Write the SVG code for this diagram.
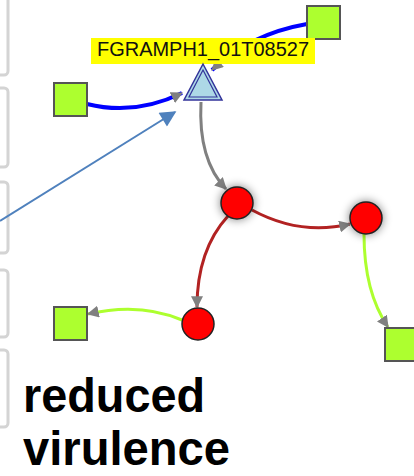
<svg xmlns="http://www.w3.org/2000/svg" width="414" height="476" viewBox="0 0 414 476">
<style>
.sq{fill:#adff2f;stroke:#555;stroke-width:2}
.rc{fill:#ff0000;stroke:#222;stroke-width:1.5}
.side{fill:#fff;stroke:#d4d4d4;stroke-width:3}
.e{fill:none}
.big{font-family:"Liberation Sans",Arial,sans-serif;font-weight:bold;font-size:48px;fill:#000}
</style>
<defs>
<marker id="agm" viewBox="0 0 10 10" refX="9" refY="5" markerWidth="12" markerHeight="12" orient="auto" markerUnits="userSpaceOnUse"><path d="M0,0L10,5L0,10z" fill="#808080"/></marker>
<marker id="ab" viewBox="0 0 10 10" refX="9" refY="5" markerWidth="18" markerHeight="16" orient="auto" markerUnits="userSpaceOnUse"><path d="M0,0L10,5L0,10z" fill="#4f81bd"/></marker>
<filter id="sh" x="-80%" y="-80%" width="260%" height="260%"><feGaussianBlur in="SourceAlpha" stdDeviation="5"/><feComponentTransfer><feFuncA type="linear" slope="0.5"/></feComponentTransfer><feMerge><feMergeNode/><feMergeNode in="SourceGraphic"/></feMerge></filter>
</defs>
<rect width="414" height="476" fill="#fff"/>
<g id="sidebar">
<rect x="-12" y="-10" width="20" height="85" rx="4" class="side"/>
<rect x="-12" y="88" width="20" height="79" rx="4" class="side"/>
<rect x="-12" y="182" width="20" height="71" rx="4" class="side"/>
<rect x="-12" y="270" width="20" height="67" rx="4" class="side"/>
<rect x="-12" y="350" width="20" height="77" rx="4" class="side"/>
</g>
<g id="connectors">
<path class="e" d="M87,104 Q135,116 182,93" stroke="#0000ff" stroke-width="4" marker-end="url(#agm)"/>
<path class="e" d="M307,24 Q250,34 212,70" stroke="#0000ff" stroke-width="4" marker-end="url(#agm)"/>
<path class="e" d="M0,221 L175,112" stroke="#4f81bd" stroke-width="2" marker-end="url(#ab)"/>
<path class="e" d="M201,102 Q198,160 226,189" stroke="#808080" stroke-width="3" marker-end="url(#agm)"/>
<path class="e" d="M252,210 Q300,236 350,224" stroke="#b22222" stroke-width="3" marker-end="url(#agm)"/>
<path class="e" d="M228,216 Q197,250 197,307" stroke="#b22222" stroke-width="3" marker-end="url(#agm)"/>
<path class="e" d="M182,320 Q140,302 88,314" stroke="#adff2f" stroke-width="3" marker-end="url(#agm)"/>
<path class="e" d="M364,234 Q364,292 388,327" stroke="#adff2f" stroke-width="3" marker-end="url(#agm)"/>
</g>
<g id="n_sq_tr"><rect x="307" y="6" width="33" height="33" class="sq"/></g>
<g id="n_sq_l"><rect x="54" y="83" width="33" height="33" class="sq"/></g>
<g id="n_sq_bl"><rect x="54" y="307" width="33" height="33" class="sq"/></g>
<g id="n_sq_br"><rect x="385" y="328" width="33" height="33" class="sq"/></g>
<g id="n_label">
<rect x="91" y="38" width="224" height="26" fill="#ffff00"/>
<text x="97" y="56" font-family="Liberation Sans,Arial,sans-serif" font-size="20" fill="#111" textLength="212" lengthAdjust="spacingAndGlyphs">FGRAMPH1_01T08527</text>
</g>
<g id="n_tri">
<polygon points="203,64 222,100 184,100" fill="#add8e6" stroke="#33339a" stroke-width="1.5"/>
<polygon points="203,70 217,97 189,97" fill="none" stroke="#33339a" stroke-width="1.2"/>
</g>
<g id="n_c1"><circle cx="237" cy="203" r="16" class="rc" filter="url(#sh)"/></g>
<g id="n_c2"><circle cx="366" cy="218" r="16" class="rc" filter="url(#sh)"/></g>
<g id="n_c3"><circle cx="198" cy="324" r="16" class="rc"/></g>
<g id="caption">
<text x="23" y="412" class="big" textLength="182" lengthAdjust="spacingAndGlyphs">reduced</text>
<text x="23" y="465" class="big" textLength="207" lengthAdjust="spacingAndGlyphs">virulence</text>
</g>
</svg>
